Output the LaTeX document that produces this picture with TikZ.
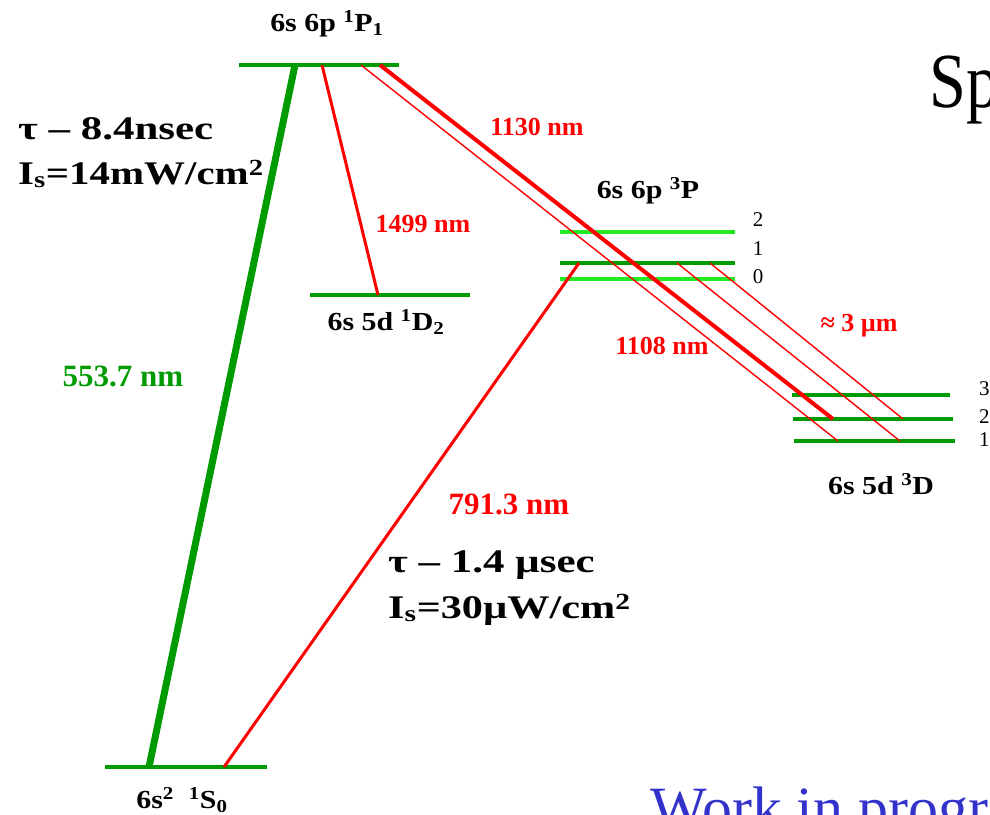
\documentclass[tikz,border=0pt]{standalone}
\usepackage{fontspec}
\setmainfont{Liberation Serif}
\definecolor{dg}{RGB}{0,155,0}
\definecolor{lg}{RGB}{35,235,35}
\definecolor{rd}{RGB}{255,0,0}
\definecolor{bl}{RGB}{51,51,204}
\newcommand{\sxp}[1]{\textsuperscript{#1}}
\newcommand{\sxb}[1]{\textsubscript{#1}}
\begin{document}
\begin{tikzpicture}[x=1bp,y=-1bp,
  lvl/.style={draw=dg, line width=4bp},
  lvlb/.style={draw=lg, line width=4bp},
  lbl/.style={font=\fontsize{26bp}{30bp}\selectfont\bfseries, inner sep=0pt},
  wl/.style={text=rd, font=\fontsize{26bp}{30bp}\selectfont\bfseries, inner sep=0pt},
  wlb/.style={font=\fontsize{31bp}{34bp}\selectfont\bfseries, inner sep=0pt},
  num/.style={font=\fontsize{21bp}{24bp}\selectfont, inner sep=0pt},
  big/.style={font=\fontsize{33bp}{38bp}\selectfont\bfseries, inner sep=0pt, anchor=base west},
  thickred/.style={draw=rd, line width=4bp},
  midred/.style={draw=rd, line width=3bp},
  thinred/.style={draw=rd, line width=1.4bp}]
\useasboundingbox (0,0) rectangle (990,815);
% level end points
\coordinate (P1a) at (239,65); \coordinate (P1b) at (399,65);
\coordinate (D12a) at (310,295); \coordinate (D12b) at (470,295);
\coordinate (P32a) at (560,232); \coordinate (P32b) at (735,232);
\coordinate (P31a) at (560,263); \coordinate (P31b) at (735,263);
\coordinate (P30a) at (560,279); \coordinate (P30b) at (735,279);
\coordinate (D33a) at (792,395); \coordinate (D33b) at (950,395);
\coordinate (D32a) at (793,419); \coordinate (D32b) at (953,419);
\coordinate (D31a) at (794,441); \coordinate (D31b) at (955,441);
\coordinate (S0a) at (105,767); \coordinate (S0b) at (267,767);
% transition end points
\coordinate (g1) at (295,65); \coordinate (g2) at (149,767);
\coordinate (r1a) at (322,65); \coordinate (r1b) at (378,295);
\coordinate (r2a) at (224,767); \coordinate (r2b) at (579,263);
\coordinate (t1a) at (380,65); \coordinate (t1b) at (833,419);
\coordinate (t2a) at (361,65); \coordinate (t2b) at (838,441);
\coordinate (t3a) at (710,263); \coordinate (t3b) at (903,419);
\coordinate (t4a) at (677,263); \coordinate (t4b) at (900,441);
% levels
\draw[lvl] (P1a) -- (P1b);
\draw[lvl] (D12a) -- (D12b);
\draw[lvlb] (P32a) -- (P32b);
\draw[lvl] (P31a) -- (P31b);
\draw[lvlb] (P30a) -- (P30b);
\draw[lvl] (D33a) -- (D33b);
\draw[lvl] (D32a) -- (D32b);
\draw[lvl] (D31a) -- (D31b);
\draw[lvl] (S0a) -- (S0b);
% transitions
\draw[draw=dg, line width=7bp] (g1) -- (g2);
\draw[midred] (r1a) -- (r1b);
\draw[midred] (r2a) -- (r2b);
\draw[thickred] (t1a) -- (t1b);
\draw[thinred] (t2a) -- (t2b);
\draw[thinred] (t3a) -- (t3b);
\draw[thinred] (t4a) -- (t4b);
% level labels
\node[lbl] (L1P1) at (327,24) {\scalebox{1.15}[1]{6s 6p \sxp{1}P\sxb{1}}};
\node[lbl] (L1D2) at (386,322) {\scalebox{1.15}[1]{6s 5d \sxp{1}D\sxb{2}}};
\node[lbl] (L3P) at (648,191) {\scalebox{1.15}[1]{6s 6p \sxp{3}P}};
\node[lbl] (L3D) at (881,484) {\scalebox{1.15}[1]{6s 5d \sxp{3}D}};
\node[lbl] (L1S0) at (182,800) {\scalebox{1.15}[1]{6s\sxp{2}\ \ \sxp{1}S\sxb{0}}};
% sublevel numbers
\node[num] (n32) at (758,220) {2};
\node[num] (n31) at (758,249) {1};
\node[num] (n30) at (758,277) {0};
\node[num, anchor=west] (n33) at (979,389) {3};
\node[num, anchor=west] (n22) at (979,417) {2};
\node[num, anchor=west] (n21) at (979,440) {1};
% wavelengths
\node[wl] (w1130) at (537,127) {1130 nm};
\node[wl] (w1499) at (423,224) {1499 nm};
\node[wl] (w1108) at (662,346) {1108 nm};
\node[wl] (w3um) at (859,326) {≈ 3 µm};
\node[wlb, text=dg] (w553) at (123,376) {553.7 nm};
\node[wlb, text=rd] (w791) at (509,504) {791.3 nm};
% lifetimes
\node[big] (tau1) at (18,139) {\scalebox{1.3}[1]{τ – 8.4nsec}};
\node[big] (is1) at (18,184) {\scalebox{1.24}[1]{I\textsubscript{s}=14mW/cm\textsuperscript{2}}};
\node[big] (tau2) at (388,572) {\scalebox{1.3}[1]{τ – 1.4 µsec}};
\node[big] (is2) at (388,618) {\scalebox{1.28}[1]{I\textsubscript{s}=30µW/cm\textsuperscript{2}}};
% slide fragments
\node[font=\fontsize{78bp}{80bp}\selectfont, inner sep=0pt, anchor=base west] (sp) at (929,107) {\scalebox{0.85}[1]{Sp}};
\node[font=\fontsize{60bp}{64bp}\selectfont, inner sep=0pt, anchor=base west, text=bl] (wip) at (650,828) {Work in progress};
\end{tikzpicture}
\end{document}
